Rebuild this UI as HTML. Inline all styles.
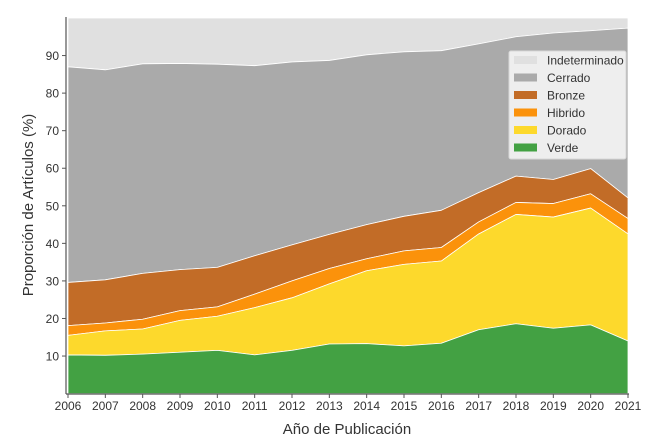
<!DOCTYPE html>
<html><head><meta charset="utf-8"><style>
body{margin:0;background:#fff;}
svg{display:block;font-family:"Liberation Sans",sans-serif;}
</style></head><body>
<svg id="chart" width="653" height="446"></svg>
<script>
const years=[2006,2007,2008,2009,2010,2011,2012,2013,2014,2015,2016,2017,2018,2019,2020,2021];
const verde=[10.3,10.2,10.5,11,11.5,10.3,11.5,13.2,13.3,12.7,13.4,17,18.6,17.4,18.3,14];
const doradoTop=[15.5,16.7,17.2,19.5,20.6,22.9,25.5,29.2,32.7,34.4,35.3,42.5,47.7,47,49.4,42.5];
const hibridoTop=[18.1,18.8,19.8,22.1,23.1,26.5,30,33.3,35.9,38,38.9,45.7,50.9,50.6,53.2,46.6];
const bronzeTop=[29.6,30.3,32,33,33.6,36.7,39.6,42.4,45,47.2,48.8,53.5,57.9,57,59.9,52.1];
const cerradoTop=[87,86.2,87.8,87.9,87.7,87.3,88.3,88.7,90.2,91,91.3,93.1,95,96,96.6,97.3];
const indetTop=[100,100,100,100,100,100,100,100,100,100,100,100,100,100,100,100];
const yTicks=[10,20,30,40,50,60,70,80,90];
const seriesNames=["Verde","Dorado","Hibrido","Bronze","Cerrado","Indeterminado"];
const seriesColors=["#43a143","#fdd92c","#fb920b","#c26c27","#aaaaaa","#e0e0e0"];

const NS="http://www.w3.org/2000/svg";
const svg=document.getElementById('chart');
const x=v=>68+(v-2006)*(628-68)/15;
const y=v=>393.6-v*3.756;
function mk(t,a,p){const e=document.createElementNS(NS,t);for(const k in a)e.setAttribute(k,a[k]);(p||svg).appendChild(e);return e;}

const stacks=[verde,doradoTop,hibridoTop,bronzeTop,cerradoTop,indetTop];
for(let s=stacks.length-1;s>=0;s--){
  const top=stacks[s], bot=s>0?stacks[s-1]:null;
  let d="";
  years.forEach((yr,i)=>{d+=(i?"L":"M")+x(yr)+","+y(top[i]);});
  for(let i=years.length-1;i>=0;i--){d+="L"+x(years[i])+","+y(bot?bot[i]:0);}
  const p=mk('path',{d:d+"Z",fill:seriesColors[s],stroke:"#fff","stroke-width":0.8,"stroke-linejoin":"round"});
  
  
}
// axes
const ax=mk('line',{x1:66,y1:17,x2:66,y2:394,stroke:"#555","stroke-width":1.2});

const bx=mk('line',{x1:66,y1:394,x2:629,y2:394,stroke:"#555","stroke-width":1.2});

yTicks.forEach(t=>{
  mk('line',{x1:62,y1:y(t),x2:66,y2:y(t),stroke:"#555"});
  const tx=mk('text',{x:59,y:y(t)+4.5,"text-anchor":"end","font-size":12,fill:"#333"});
  tx.textContent=t;
  
  
});
years.forEach(yr=>{
  mk('line',{x1:x(yr),y1:394,x2:x(yr),y2:398,stroke:"#555"});
  const tx=mk('text',{x:x(yr),y:410,"text-anchor":"middle","font-size":12,fill:"#333"});
  tx.textContent=yr;
  
  
});
const xt=mk('text',{x:347,y:434,"text-anchor":"middle","font-size":15,fill:"#333"});
xt.textContent="Año de Publicación";

const yt=mk('text',{x:0,y:0,"text-anchor":"middle","font-size":15,fill:"#333",transform:"translate(33,205) rotate(-90)"});
yt.textContent="Proporción de Artículos (%)";

// legend
const lg=mk('g',{});

mk('rect',{x:509,y:51,width:117,height:108,rx:2,fill:"#eeeeee",stroke:"#d8d8d8"},lg);
for(let i=0;i<6;i++){
  const s=5-i, ry=60+i*17.5;
  const g=mk('g',{},lg);
  
  
  mk('rect',{x:514,y:ry-4,width:23,height:8,fill:seriesColors[s]},g);
  const t=mk('text',{x:547,y:ry+4.5,"font-size":12,fill:"#333"},g);
  t.textContent=seriesNames[s];
}
</script>
</body></html>
